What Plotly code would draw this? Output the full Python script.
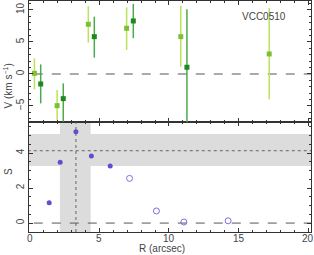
import plotly.graph_objects as go

# Top panel: velocity, two series
r_light = [0.34, 1.97, 4.21, 6.96, 10.85, 17.2]
v_light = [0.1, -4.95, 7.76, 7.14, 5.83, 3.13]
v_light_hi = [2.45, -2.5, 10.6, 10.4, 10.6, 10.3]
v_light_lo = [-2.4, -7.2, 4.9, 3.75, 1.14, -3.95]

r_dark = [0.79, 2.41, 4.64, 7.44, 11.29]
v_dark = [-1.56, -3.85, 5.83, 8.28, 1.05]
v_dark_hi = [1.5, -1.46, 8.95, 10.95, 10.1]
v_dark_lo = [-4.6, -7.45, 2.55, 5.6, -9.0]

# Bottom panel: S
r_s_fill = [1.4, 2.19, 3.32, 4.43, 5.78]
s_fill = [1.16, 3.47, 5.22, 3.83, 3.26]
r_s_open = [7.17, 9.1, 11.07, 14.25]
s_open = [2.55, 0.69, 0.06, 0.13]

s_band = [3.26, 5.09]
s_mean = 4.13
r_band = [2.17, 4.38]
r_peak = 3.32

x_ticks = [0, 5, 10, 15, 20]
label = "VCC0510"

fig = go.Figure()

def err(v, hi, lo):
    return [h - x for h, x in zip(hi, v)], [x - l for x, l in zip(v, lo)]

ph, pm = err(v_light, v_light_hi, v_light_lo)
fig.add_trace(go.Scatter(x=r_light, y=v_light, xaxis="x2", yaxis="y", mode="markers",
    marker=dict(symbol="square", size=5, color="#7dc133"),
    error_y=dict(type="data", symmetric=False, array=ph, arrayminus=pm,
                 color="#b8e35a", thickness=1.5, width=0),
    showlegend=False))
dh, dm = err(v_dark, v_dark_hi, v_dark_lo)
fig.add_trace(go.Scatter(x=r_dark, y=v_dark, xaxis="x2", yaxis="y", mode="markers",
    marker=dict(symbol="square", size=5, color="#1e8a1e"),
    error_y=dict(type="data", symmetric=False, array=dh, arrayminus=dm,
                 color="#4caa4c", thickness=1.5, width=0),
    showlegend=False))

fig.add_trace(go.Scatter(x=r_s_fill, y=s_fill, xaxis="x", yaxis="y2", mode="markers",
    marker=dict(symbol="circle", size=5, color="#5a50d0"),
    showlegend=False))
fig.add_trace(go.Scatter(x=r_s_open, y=s_open, xaxis="x", yaxis="y2", mode="markers",
    marker=dict(symbol="circle-open", size=6, color="#7a70e0", line=dict(width=1)),
    showlegend=False))

# bands and lines
fig.add_shape(type="rect", xref="x", yref="y2", x0=-1, x1=21, y0=s_band[0], y1=s_band[1],
              fillcolor="#dcdcdc", line=dict(width=0), layer="below")
fig.add_shape(type="rect", xref="x", yref="y2 domain", x0=r_band[0], x1=r_band[1], y0=0, y1=1,
              fillcolor="#dcdcdc", line=dict(width=0), layer="below")
fig.add_shape(type="line", xref="x", yref="y2", x0=-1, x1=21, y0=s_mean, y1=s_mean,
              line=dict(color="#666", width=1, dash="dot"))
fig.add_shape(type="line", xref="x", yref="y2 domain", x0=r_peak, x1=r_peak, y0=0, y1=1,
              line=dict(color="#666", width=1, dash="dot"))
fig.add_shape(type="line", xref="x", yref="y2", x0=-1, x1=21, y0=0, y1=0,
              line=dict(color="#555", width=1, dash="dash"), layer="below")
fig.add_shape(type="line", xref="x2", yref="y", x0=-1, x1=21, y0=0, y1=0,
              line=dict(color="#aaaaaa", width=2, dash="dash"), layer="below")

fnt = dict(family="Liberation Sans, Arial", size=10, color="#444")
axc = dict(showgrid=False, zeroline=False, showline=True, linecolor="#333", linewidth=1,
           mirror="ticks", ticks="inside", ticklen=4, tickcolor="#333", tickfont=fnt)

split = 110 / 231
xr = [-0.05, 20.2]

fig.update_layout(
    xaxis=dict(range=xr, tickvals=x_ticks, anchor="y2", domain=[0, 1],
               showticklabels=False,
               minor=dict(dtick=1, tick0=0, ticks="inside", ticklen=2, tickcolor="#333"), **axc),
    xaxis2=dict(range=xr, tickvals=x_ticks, anchor="y", domain=[0, 1],
                matches="x", showticklabels=False,
                minor=dict(dtick=1, tick0=0, ticks="inside", ticklen=2, tickcolor="#333"), **axc),
    yaxis=dict(range=[-7.5, 11.4], dtick=5, tick0=0, tickangle=-90, anchor="x2",
               domain=[split, 1],
               minor=dict(dtick=1, ticks="inside", ticklen=2, tickcolor="#333"), **axc),
    yaxis2=dict(range=[-0.51, 5.77], dtick=2, tick0=0, tickangle=-90, anchor="x",
                domain=[0, split],
                minor=dict(dtick=0.5, ticks="inside", ticklen=2, tickcolor="#333"), **axc),
)

# x tick labels placed through the x axis scale
for t in x_ticks:
    fig.add_annotation(text=str(t), xref="x", yref="paper", x=t, y=-0.026,
                       showarrow=False, font=fnt, yanchor="middle", xanchor="center")

fig.add_annotation(text="V (km s<sup>−1</sup>)", xref="paper", yref="paper", x=-0.075,
                   y=0.74, textangle=-90, showarrow=False, font=fnt, xanchor="center")
fig.add_annotation(text="S", xref="paper", yref="paper", x=-0.075,
                   y=0.24, textangle=-90, showarrow=False, font=fnt, xanchor="center")
fig.add_annotation(text="R (arcsec)", xref="paper", yref="paper", x=0.47,
                   y=-0.072, showarrow=False, font=fnt, yanchor="middle")
fig.add_annotation(text=label, xref="x2", yref="y", x=16.8, y=8.95, showarrow=False,
                   font=fnt)

fig.update_layout(width=314, height=255, margin=dict(l=29, r=3, t=1, b=23),
                  plot_bgcolor="white", paper_bgcolor="white", font=fnt)

fig.write_html("out.html", post_script="document.body.style.margin='0';",
               config={"displayModeBar": False})
